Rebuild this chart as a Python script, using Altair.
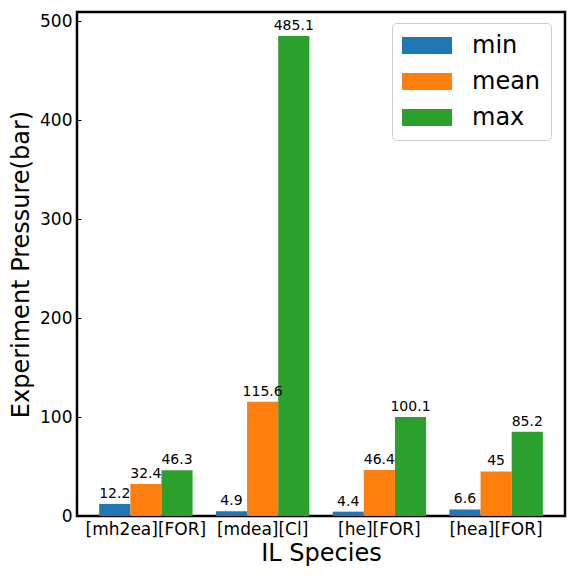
import altair as alt
import pandas as pd

categories = ["[mh2ea][FOR]", "[mdea][Cl]", "[he][FOR]", "[hea][FOR]"]
stats = ["min", "mean", "max"]
min_vals = [12.2, 4.9, 4.4, 6.6]
mean_vals = [32.4, 115.6, 46.4, 45]
max_vals = [46.3, 485.1, 100.1, 85.2]
colors = ["#1f77b4", "#ff7f0e", "#2ca02c"]
y_ticks = [0, 100, 200, 300, 400, 500]

rows = []
for s, vals in zip(stats, [min_vals, mean_vals, max_vals]):
    for c, v in zip(categories, vals):
        rows.append({"species": c, "stat": s, "value": v,
                     "label": ("%g" % v)})
df = pd.DataFrame(rows)

FONT = "DejaVu Sans"

x_enc = alt.X("species:N", sort=categories,
              scale=alt.Scale(paddingInner=0.2, paddingOuter=0.19),
              axis=alt.Axis(title="IL Species", labelAngle=0, labelFontSize=17,
                            titleFontSize=24, titleFontWeight="normal",
                            offset=-4, tickSize=4, tickWidth=1, tickColor="black",
                            labelPadding=5, titlePadding=4, domain=False,
                            labelColor="black", titleColor="black"))
xo_enc = alt.XOffset("stat:N", sort=stats,
                     scale=alt.Scale(paddingInner=0, paddingOuter=0))
y_scale = alt.Scale(domain=[0, 509.4], nice=False, zero=True)

bars = alt.Chart(df).mark_bar().encode(
    x=x_enc,
    xOffset=xo_enc,
    y=alt.Y("value:Q", scale=y_scale,
            axis=alt.Axis(title="Experiment Pressure(bar)", values=y_ticks,
                          labelFontSize=17, titleFontSize=24, titleFontWeight="normal",
                          offset=-4, tickSize=4, tickWidth=1, tickColor="black",
                          labelPadding=5, titlePadding=6, domain=False, grid=False,
                          labelColor="black", titleColor="black")),
    color=alt.Color("stat:N", sort=stats,
                    scale=alt.Scale(domain=stats, range=colors),
                    legend=alt.Legend(title=None, orient="none", legendX=315, legendY=11,
                                      labelFontSize=24, labelColor="black",
                                      symbolType="M-1,-0.68L3,-0.68L3,0.68L-1,0.68Z",
                                      symbolSize=625, symbolStrokeWidth=0,
                                      symbolOpacity=1,
                                      fillColor="white", strokeColor="#cccccc",
                                      cornerRadius=4, padding=10, rowPadding=11,
                                      labelOffset=45, offset=0)),
)

text = alt.Chart(df).mark_text(baseline="bottom", dy=-3, fontSize=14, font=FONT,
                               color="black").encode(
    x=alt.X("species:N", sort=categories),
    xOffset=xo_enc,
    y=alt.Y("value:Q", scale=y_scale),
    text="label:N",
)

chart = alt.layer(bars, text).properties(
    width=488, height=504,
    padding={"left": 69, "top": 4, "right": 3, "bottom": 52},
    autosize="none",
).configure(font=FONT).configure_view(
    stroke="black", strokeWidth=2.5
).configure_axis(grid=False)

chart.save("out.html", embed_options={"renderer": "svg", "actions": False})
